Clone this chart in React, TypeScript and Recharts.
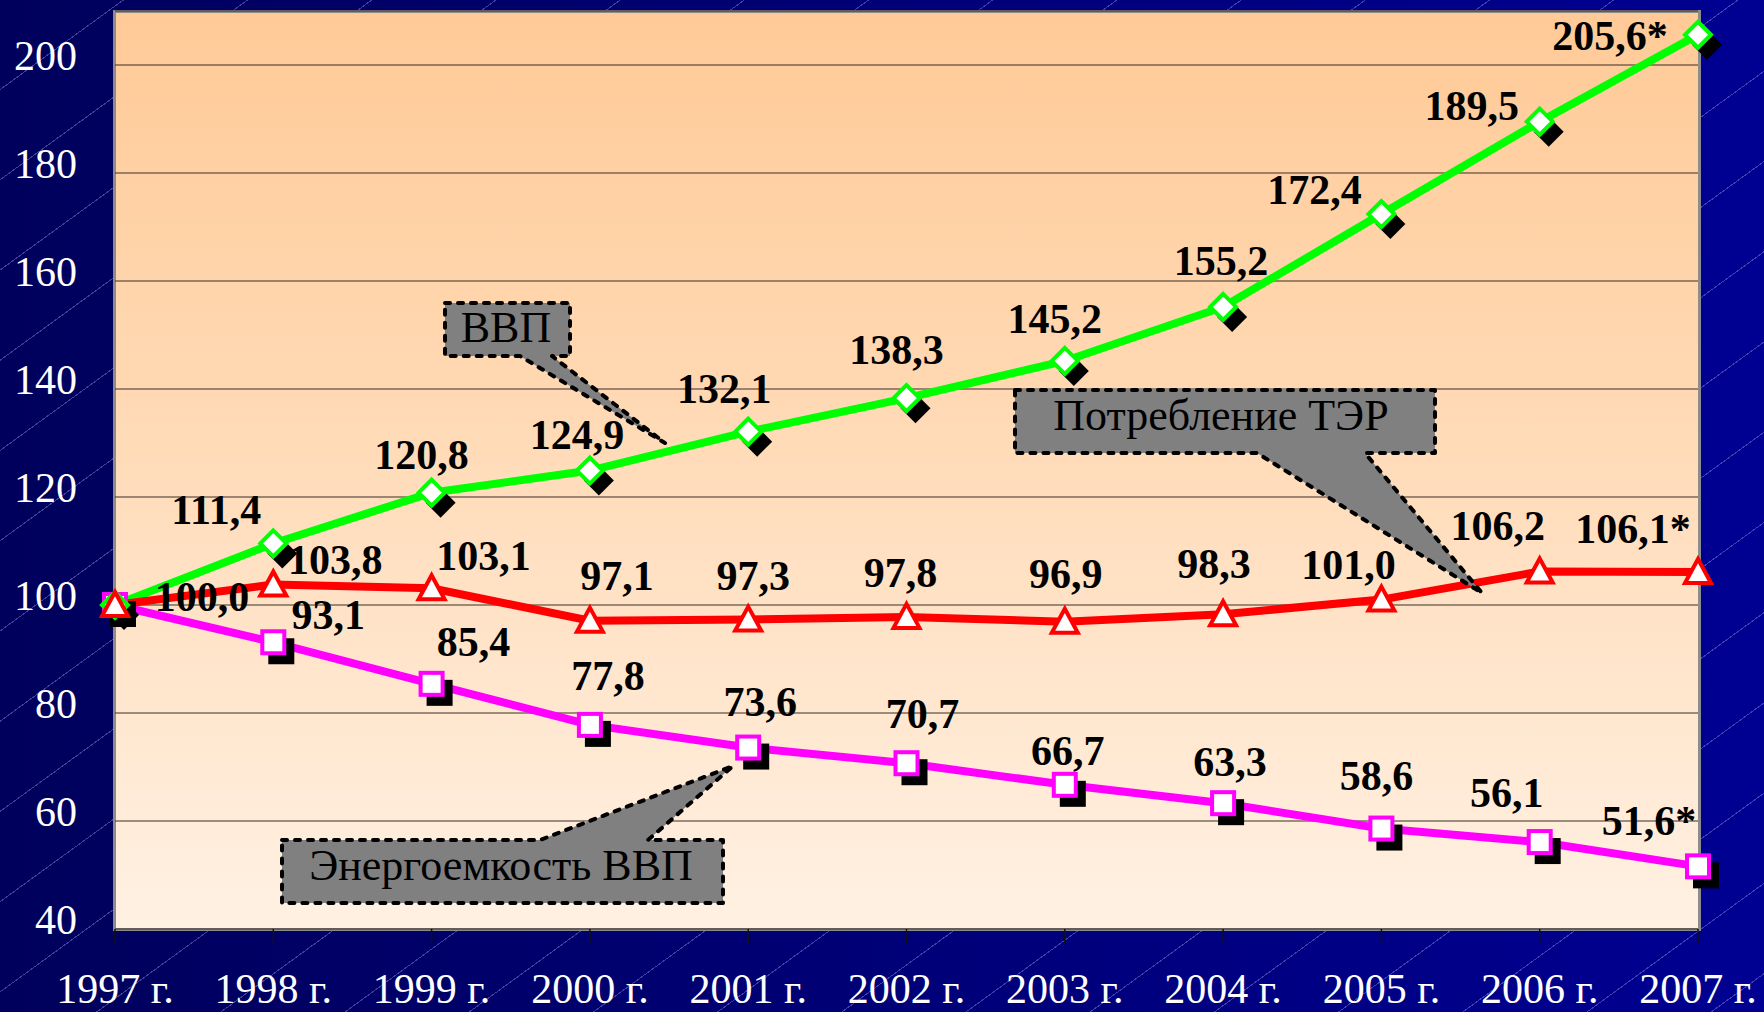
import { LineChart, Line, XAxis, YAxis, CartesianGrid, LabelList } from "recharts";

const years = [
  "1997 г.", "1998 г.", "1999 г.", "2000 г.", "2001 г.", "2002 г.",
  "2003 г.", "2004 г.", "2005 г.", "2006 г.", "2007 г.",
];
// ВВП
const gdp = [100.0, 111.4, 120.8, 124.9, 132.1, 138.3, 145.2, 155.2, 172.4, 189.5, 205.6];
// Потребление ТЭР
const fuelUse = [100.0, 103.8, 103.1, 97.1, 97.3, 97.8, 96.9, 98.3, 101.0, 106.2, 106.1];
// Энергоемкость ВВП
const gdpIntensity = [100.0, 93.1, 85.4, 77.8, 73.6, 70.7, 66.7, 63.3, 58.6, 56.1, 51.6];
const valueTicks = [40, 60, 80, 100, 120, 140, 160, 180, 200];

// where each value label sits, px from the point to the middle of the digits
type Nudge = [number, number] | null;
const gdpNudge: Nudge[] = [null, [-57, -33], [-10, -38], [-13, -36], [-24, -43], [-10, -48], [-10, -42], [-2, -46], [-67, -24], [-68, -16], [-88, 1]];
const fuelNudge: Nudge[] = [[87, -8], [62, -24], [52, -32], [27, -45], [5, -44], [-6, -44], [1, -48], [-9, -50], [-33, -35], [-42, -46], [-65, -43]];
const intensityNudge: Nudge[] = [null, [55, -27], [42, -42], [18, -49], [12, -46], [16, -49], [3, -34], [7, -41], [-5, -53], [-33, -49], [-49, -45]];

const rows = years.map((year, i) => ({
  year,
  gdp: gdp[i],
  fuel: fuelUse[i],
  intensity: gdpIntensity[i],
}));

const W = 1764;
const H = 1012;
const serif = '"Liberation Serif", "Times New Roman", serif';

function fmt(v: number, i: number) {
  return v.toFixed(1).replace(".", ",") + (i === years.length - 1 ? "*" : "");
}

function makeLabel(nudge: Nudge[]) {
  return (props: any) => {
    const i = props.index;
    const n = nudge[i];
    if (!n) return null;
    const x = props.viewBox?.x ?? props.x;
    const y = props.viewBox?.y ?? props.y;
    if (x == null || y == null) return null;
    return (
      <text
        key={`lbl-${i}`}
        x={x + n[0]}
        y={y + n[1] + 14}
        textAnchor="middle"
        fontFamily={serif}
        fontWeight="bold"
        fontSize={42}
        fill="#000"
      >
        {fmt(Number(props.value), i)}
      </text>
    );
  };
}

function diamondDot(p: any) {
  const { cx, cy, index } = p;
  if (cx == null || cy == null) return <g key={`gd-${index}`} />;
  const pts = (ox: number, oy: number, rr: number) =>
    `${cx + ox},${cy + oy - rr} ${cx + ox + rr},${cy + oy} ${cx + ox},${cy + oy + rr} ${cx + ox - rr},${cy + oy}`;
  return (
    <g key={`gd-${index}`}>
      <polygon points={pts(9, 10, 15)} fill="#000" />
      <polygon points={pts(0, 0, 13)} fill="#fff" stroke="#00ff00" strokeWidth={4} />
    </g>
  );
}

function squareDot(p: any) {
  const { cx, cy, index } = p;
  if (cx == null || cy == null) return <g key={`sq-${index}`} />;
  return (
    <g key={`sq-${index}`}>
      <rect x={cx - 13 + 8} y={cy - 13 + 9} width={26} height={26} fill="#000" />
      <rect x={cx - 11} y={cy - 11} width={22} height={22} fill="#fff" stroke="#ff00ff" strokeWidth={4} />
    </g>
  );
}

function triangleDot(p: any) {
  const { cx, cy, index } = p;
  if (cx == null || cy == null) return <g key={`tr-${index}`} />;
  return (
    <polygon
      key={`tr-${index}`}
      points={`${cx},${cy - 13} ${cx + 13},${cy + 11} ${cx - 13},${cy + 11}`}
      fill="#fff"
      stroke="#ff0000"
      strokeWidth={4}
    />
  );
}

function YTick(props: any) {
  const { y, payload } = props;
  return (
    <text x={77} y={y + 5} textAnchor="end" fontFamily={serif} fontSize={42} fill="#fff">
      {payload.value}
    </text>
  );
}

function XTick(props: any) {
  const { x, payload } = props;
  return (
    <text x={x} y={1003} textAnchor="middle" fontFamily={serif} fontSize={42} fill="#fff">
      {payload.value}
    </text>
  );
}

const calloutStroke = {
  fill: "#808080",
  stroke: "#000",
  strokeWidth: 4,
  strokeDasharray: "5 8",
  strokeLinecap: "round" as const,
  strokeLinejoin: "round" as const,
};

function Callouts() {
  return (
    <svg
      width={W}
      height={H}
      style={{ position: "absolute", left: 0, top: 0, pointerEvents: "none" }}
    >
      <path d="M445,303 H570 V356 H552 L665,443 L520,356 H445 Z" {...calloutStroke} />
      <text x={506} y={342} textAnchor="middle" fontFamily={serif} fontSize={44} fill="#000">
        ВВП
      </text>
      <path d="M1015,390 H1435 V453 H1365 L1482,593 L1257,453 H1015 Z" {...calloutStroke} />
      <text x={1221} y={430} textAnchor="middle" fontFamily={serif} fontSize={44} fill="#000">
        Потребление ТЭР
      </text>
      <path d="M282,840 H540 L733,766 L648,840 H723 V903 H282 Z" {...calloutStroke} />
      <text x={501} y={880} textAnchor="middle" fontFamily={serif} fontSize={44} fill="#000">
        Энергоемкость ВВП
      </text>
    </svg>
  );
}

export default function App() {
  return (
    <div
      style={{
        position: "absolute",
        left: 0,
        top: 0,
        width: W,
        height: H,
        overflow: "hidden",
        background:
          "repeating-linear-gradient(144deg, rgba(0,0,0,0) 0px, rgba(0,0,0,0) 72px, rgba(160,160,235,0.4) 72px, rgba(160,160,235,0.4) 73px), linear-gradient(to right, #00005c, #000092)",
      }}
    >
      {/* plot area fill and frame */}
      <div
        style={{
          position: "absolute",
          left: 113,
          top: 10,
          width: 1588,
          height: 921,
          boxSizing: "border-box",
          border: "3px solid #8c8c8c",
          background: "linear-gradient(to bottom, #ffca97 0%, #ffd8b2 40%, #fff1e3 100%)",
        }}
      />
      <div style={{ position: "absolute", left: 0, top: 0 }}>
        <LineChart
          width={W}
          height={H}
          data={rows}
          margin={{ top: 11, right: 66, bottom: 0, left: 0 }}
        >
          <CartesianGrid vertical={false} stroke="#3a2f28" strokeWidth={1.2} />
          <XAxis
            dataKey="year"
            height={83}
            padding={{ left: 0, right: 0 }}
            interval={0}
            axisLine={false}
            tickSize={14}
            tickLine={{ stroke: "#111", strokeWidth: 1.5 }}
            tick={<XTick />}
          />
          <YAxis
            type="number"
            width={115}
            domain={[40, 210]}
            ticks={valueTicks}
            interval={0}
            axisLine={false}
            tickLine={false}
            tick={<YTick />}
          />
          <Line
            dataKey="intensity"
            stroke="#ff00ff"
            strokeWidth={8}
            dot={squareDot}
            activeDot={false}
            isAnimationActive={false}
          >
            <LabelList dataKey="intensity" content={makeLabel(intensityNudge)} />
          </Line>
          <Line
            dataKey="gdp"
            stroke="#00ff00"
            strokeWidth={8}
            dot={diamondDot}
            activeDot={false}
            isAnimationActive={false}
          >
            <LabelList dataKey="gdp" content={makeLabel(gdpNudge)} />
          </Line>
          <Line
            dataKey="fuel"
            stroke="#ff0000"
            strokeWidth={8}
            dot={triangleDot}
            activeDot={false}
            isAnimationActive={false}
          >
            <LabelList dataKey="fuel" content={makeLabel(fuelNudge)} />
          </Line>
        </LineChart>
      </div>
      <Callouts />
    </div>
  );
}
